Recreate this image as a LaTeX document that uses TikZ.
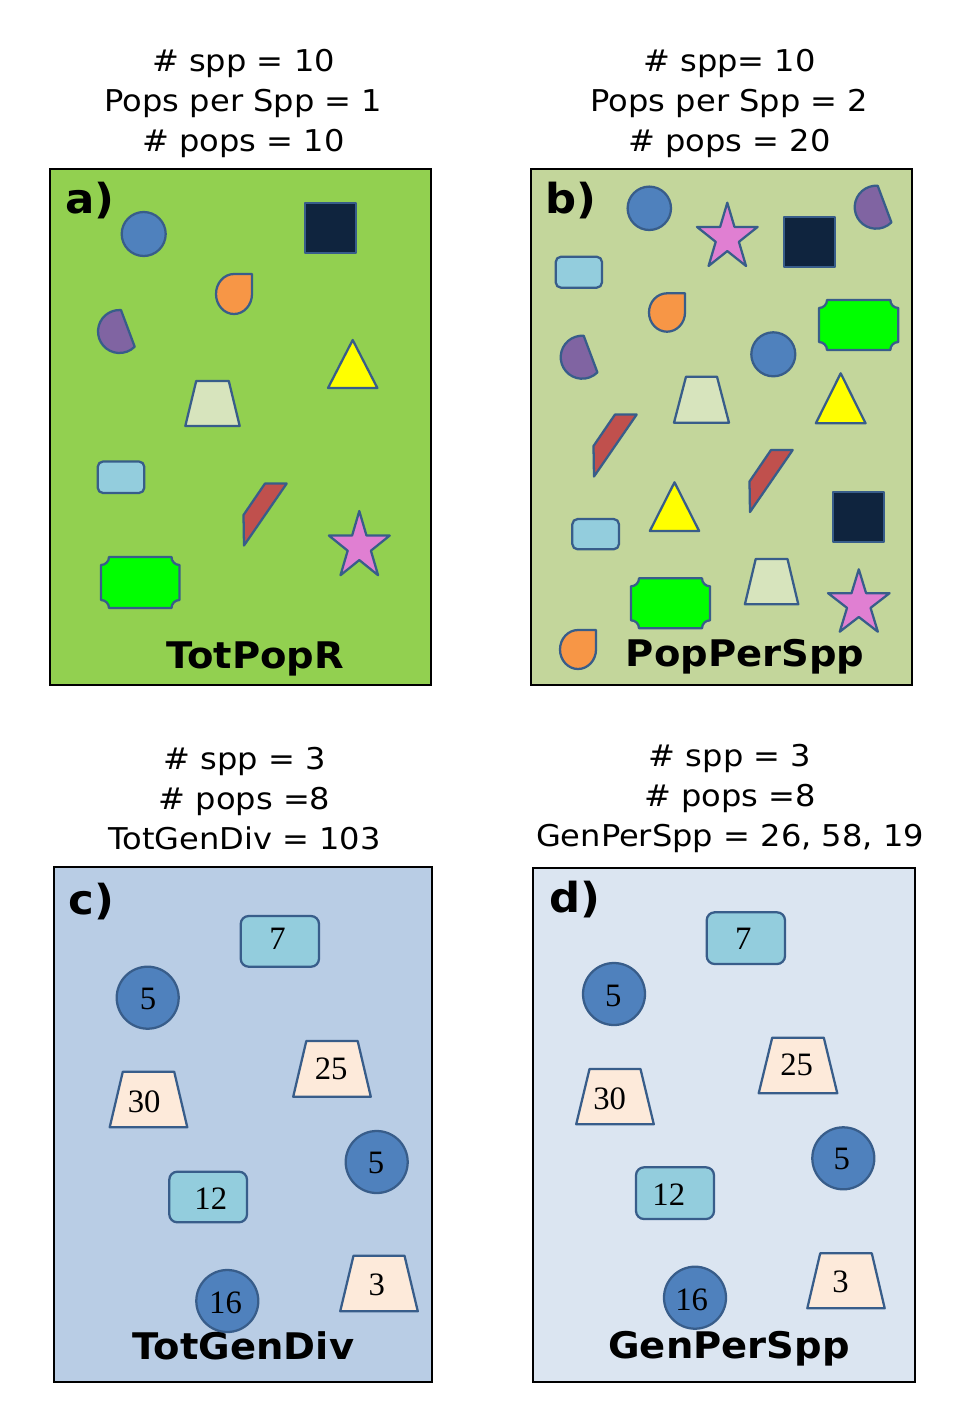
\documentclass[tikz,border=0pt]{standalone}
\usepackage{fontspec}
\setmainfont{DejaVu Sans}
\newfontfamily\hdrfont[FakeStretch=1.07]{DejaVu Sans}
\newfontfamily\lblfont[FakeStretch=1.05]{DejaVu Sans}
\newfontfamily\numfont{Liberation Serif}
\usetikzlibrary{calc}

\definecolor{bgA}{HTML}{92D050}
\definecolor{bgB}{HTML}{C3D69B}
\definecolor{bgC}{HTML}{B9CDE5}
\definecolor{bgD}{HTML}{DBE5F1}
\definecolor{edge}{HTML}{385D8A}
\definecolor{navy}{HTML}{0F243E}
\definecolor{orng}{HTML}{F79646}
\definecolor{purp}{HTML}{8064A2}
\definecolor{yell}{HTML}{FFFF00}
\definecolor{sage}{HTML}{D7E4BD}
\definecolor{skyb}{HTML}{93CDDD}
\definecolor{brick}{HTML}{C0504D}
\definecolor{orchid}{HTML}{E07FD2}
\definecolor{lime}{HTML}{00FF00}
\definecolor{peach}{HTML}{FDEADA}
\definecolor{steel}{HTML}{4F81BD}

% circle: cx, cy, r, fill
\newcommand\shpCircle[4]{\draw[shp,fill=#4] (#1,#2) circle[radius=#3];}
% teardrop with its tip at the upper right: cx, cy, rx, ry
\newcommand\shpDrop[4]{\draw[shp,fill=orng] (#1,#2-#4) -- (#1+#3,#2-#4) -- (#1+#3,#2)
  arc[start angle=0,end angle=270,x radius=#3,y radius=#4] -- cycle;}
% chord (cut disc): centre of the circle
\newcommand\shpChord[2]{\draw[shp,fill=purp] (#1,#2) ++(-86:21.5)
  arc[start angle=-86,end angle=-315,radius=21.5] -- cycle;}
% dark square: x1, y1, x2, y2
\newcommand\shpSquare[4]{\draw[shp,fill=navy] (#1,#2) rectangle (#3,#4);}
% triangle: apex x, apex y, base y, half base
\newcommand\shpTri[4]{\draw[shp,fill=yell] (#1,#2) -- (#1+#4,#3) -- (#1-#4,#3) -- cycle;}
% trapezoid: cx, top y, bottom y, half top, half bottom, fill
\newcommand\shpTrap[6]{\draw[shp,fill=#6] (#1-#4,#2) -- (#1+#4,#2) -- (#1+#5,#3) -- (#1-#5,#3) -- cycle;}
% rounded box: x1, y1, x2, y2, corner radius
\newcommand\shpRound[5]{\draw[shp,fill=skyb,rounded corners=#5] (#1,#2) rectangle (#3,#4);}
% slanted bar: left x, top y
\newcommand\shpSlant[2]{\draw[shp,fill=brick] (#1+21,#2) -- (#1+42.7,#2) -- (#1,#2+62) -- (#1-0.5,#2+31.5) -- cycle;}
% five-point star: cx, cy, rx, ry
\newcommand\shpStar[4]{\draw[shp,fill=orchid] ({#1},{#2-#4})
  \foreach \ang/\fac in {-54/0.382,-18/1,18/0.382,54/1,90/0.382,126/1,162/0.382,198/1,234/0.382}
  {-- ({#1+\fac*#3*cos(\ang)},{#2+\fac*#4*sin(\ang)})} -- cycle;}
% plaque with concave corners: x1, y1, x2, y2
\newcommand\shpPlaque[4]{\draw[shp,fill=lime] (#1+8,#2) -- (#3-8,#2)
  arc[start angle=180,end angle=90,radius=8] -- (#3,#4-8)
  arc[start angle=270,end angle=180,radius=8] -- (#1+8,#4)
  arc[start angle=0,end angle=-90,radius=8] -- (#1,#2+8)
  arc[start angle=90,end angle=0,radius=8] -- cycle;}

\begin{document}
\begin{tikzpicture}[x=0.75pt,y=-0.75pt,
  shp/.style={draw=edge,line width=1.7pt,line join=round},
  panel/.style={draw=black,line width=1.6pt},
  hdr/.style={anchor=base,inner sep=0pt,font=\hdrfont\fontsize{22.5}{27}\selectfont},
  lbl/.style={anchor=base,inner sep=0pt,font=\lblfont\bfseries\fontsize{27.5}{32}\selectfont},
  plet/.style={anchor=base west,inner sep=0pt,font=\lblfont\bfseries\fontsize{31}{35}\selectfont},
  num/.style={inner sep=0pt,font=\numfont\fontsize{24.5}{28}\selectfont}]
\useasboundingbox (0,0) rectangle (965,1425);
\fill[white] (0,0) rectangle (965,1425);

% ---------- panel frames ----------
\draw[panel,fill=bgA] (50,169) rectangle (431,685);
\draw[panel,fill=bgB] (531,169) rectangle (912,685);
\draw[panel,fill=bgC] (54,867) rectangle (432,1382);
\draw[panel,fill=bgD] (533,868) rectangle (915,1382);

% ---------- headers ----------
\node[hdr] (ha1) at (243.5,71) {\# spp = 10};
\node[hdr] (ha2) at (243.5,111) {Pops per Spp = 1};
\node[hdr] (ha3) at (243.5,151) {\# pops = 10};
\node[hdr] (hb1) at (729.5,71) {\# spp= 10};
\node[hdr] (hb2) at (729.5,111) {Pops per Spp = 2};
\node[hdr] (hb3) at (729.5,151) {\# pops = 20};
\node[hdr] (hc1) at (244.5,769) {\# spp = 3};
\node[hdr] (hc2) at (244.5,809) {\# pops =8};
\node[hdr] (hc3) at (244.5,849) {TotGenDiv = 103};
\node[hdr] (hd1) at (730,766) {\# spp = 3};
\node[hdr] (hd2) at (730,806) {\# pops =8};
\node[hdr] (hd3) at (730,846) {GenPerSpp = 26, 58, 19};

% ---------- panel a: one population per species ----------
\shpCircle{143.7}{234}{22}{steel}
\shpSquare{305}{203}{356}{253}
\shpDrop{234}{294}{18}{20}
\shpChord{119.5}{331.5}
\shpTri{352.7}{340}{388}{24.7}
\shpTrap{212.5}{381}{426}{16.3}{27.2}{sage}
\shpRound{97.7}{461.5}{144.3}{493}{4pt}
\shpSlant{244}{483.5}
\shpStar{359.3}{546.5}{32}{35.5}
\shpPlaque{101}{557}{179.5}{608}

% ---------- panel b: two populations per species ----------
\shpCircle{649.3}{208.3}{21.7}{steel}
\shpStar{727.3}{237.7}{31.9}{35}
\shpSquare{784}{216.7}{835}{266.7}
\shpChord{876.2}{207.2}
\shpRound{555.7}{256.7}{602}{287.7}{4pt}
\shpDrop{667}{312.5}{18}{19.2}
\shpPlaque{819}{300}{898.3}{350}
\shpChord{582.2}{357.2}
\shpCircle{773.3}{354.3}{22}{steel}
\shpTrap{701.5}{376.7}{422.7}{15.5}{27.5}{sage}
\shpTri{840.7}{373.3}{423.3}{24.85}
\shpSlant{594}{414.5}
\shpSlant{750}{450}
\shpTri{674.5}{482.3}{531}{24.65}
\shpSquare{833.3}{491.7}{884.3}{541.7}
\shpRound{572.3}{519}{619}{549.3}{4pt}
\shpPlaque{631}{578.3}{710}{628.3}
\shpTrap{771.6}{559}{604.3}{15.9}{26.7}{sage}
\shpStar{858.8}{603.8}{32.4}{34.5}
\shpDrop{578}{649.5}{18}{19.5}

% ---------- panel c: total genetic diversity ----------
\shpRound{240.7}{916}{319}{966.7}{6pt}
\shpCircle{147.7}{997.7}{31}{steel}
\shpTrap{332}{1041}{1096.7}{25.7}{38.8}{peach}
\shpTrap{148.5}{1071.7}{1127.3}{25.7}{38.8}{peach}
\shpCircle{376.7}{1162}{31}{steel}
\shpRound{169.3}{1171.7}{247}{1222.3}{6pt}
\shpTrap{379}{1255.7}{1311.3}{25.5}{38.8}{peach}
\shpCircle{227.3}{1301}{31}{steel}
\node[num] (c7)  at (277.5,938.3)  {7};
\node[num] (c5a) at (148,998.8)    {5};
\node[num] (c25) at (331.2,1069)   {25};
\node[num] (c30) at (144.2,1101.7) {30};
\node[num] (c5b) at (376,1163)     {5};
\node[num] (c12) at (210.8,1198.3) {12};
\node[num] (c3)  at (376.7,1285)   {3};
\node[num] (c16) at (225.5,1302.5) {16};

% ---------- panel d: genetic diversity per species ----------
\shpRound{706.7}{912.3}{785}{964}{6pt}
\shpCircle{614}{994}{31}{steel}
\shpTrap{798}{1037.7}{1093.3}{25.8}{39.3}{peach}
\shpTrap{615}{1069}{1124.3}{25.5}{38.8}{peach}
\shpCircle{843.3}{1158.3}{31}{steel}
\shpRound{636}{1167.3}{714}{1219}{6pt}
\shpTrap{846}{1253.3}{1308.3}{25.8}{38.7}{peach}
\shpCircle{695}{1297.7}{31}{steel}
\node[num] (d7)  at (743.3,938.8)  {7};
\node[num] (d5a) at (613.3,995.8)  {5};
\node[num] (d25) at (796.7,1065)   {25};
\node[num] (d30) at (609.7,1098.3) {30};
\node[num] (d5b) at (841.7,1159.2) {5};
\node[num] (d12) at (668.8,1194.2) {12};
\node[num] (d3)  at (840.5,1281.7) {3};
\node[num] (d16) at (691.7,1300)   {16};

% ---------- panel letters and titles ----------
\node[plet] (la) at (65,213) {a)};
\node[plet] (lb) at (545,213.5) {b)};
\node[plet] (lc) at (68,914) {c)};
\node[plet] (ld) at (549,912.5) {d)};
\node[lbl] (ta) at (255,668) {TotPopR};
\node[lbl] (tb) at (745,666.5) {PopPerSpp};
\node[lbl] (tc) at (243.5,1359) {TotGenDiv};
\node[lbl] (td) at (729,1358.5) {GenPerSpp};
\end{tikzpicture}
\end{document}
